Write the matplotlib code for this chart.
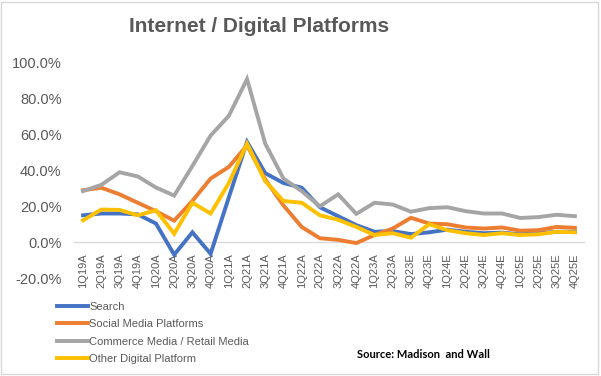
import matplotlib
matplotlib.use("Agg")
import matplotlib.pyplot as plt
from matplotlib.patches import Rectangle

quarters = ["1Q19A", "2Q19A", "3Q19A", "4Q19A", "1Q20A", "2Q20A", "3Q20A", "4Q20A",
            "1Q21A", "2Q21A", "3Q21A", "4Q21A", "1Q22A", "2Q22A", "3Q22A", "4Q22A",
            "1Q23A", "2Q23A", "3Q23E", "4Q23E", "1Q24E", "2Q24E", "3Q24E", "4Q24E",
            "1Q25E", "2Q25E", "3Q25E", "4Q25E"]

search = [15.0, 16.0, 16.0, 15.5, 10.4, -7.0, 5.5, -6.5,
          25.0, 56.0, 38.5, 33.0, 30.4, 19.5, 14.5, 9.5,
          5.8, 6.2, 4.5, 5.5, 7.0, 5.8, 5.0, 5.3,
          4.4, 5.0, 5.8, 5.8]
social = [29.0, 30.4, 26.7, 22.0, 17.3, 12.0, 23.0, 35.5,
          42.0, 54.0, 35.0, 20.5, 8.5, 2.2, 1.3, -0.5,
          4.0, 7.6, 13.6, 10.4, 10.0, 8.2, 7.6, 8.2,
          6.4, 6.7, 8.5, 8.0]
commerce = [28.5, 32.0, 39.0, 36.7, 30.5, 26.0, 42.5, 59.5,
            70.5, 91.0, 55.0, 35.5, 28.5, 20.0, 26.7, 15.8,
            22.0, 21.0, 17.0, 19.0, 19.5, 17.3, 16.0, 16.0,
            13.5, 14.0, 15.3, 14.5]
other = [12.2, 18.2, 18.0, 15.0, 17.8, 4.7, 22.0, 16.0,
         33.0, 55.0, 34.0, 23.0, 22.0, 15.0, 12.5, 8.5,
         4.0, 5.0, 2.5, 10.0, 6.7, 5.0, 4.0, 5.0,
         4.0, 4.4, 5.8, 5.5]

series = [
    ("Search", search, "#4472C4"),
    ("Social Media Platforms", social, "#ED7D31"),
    ("Commerce Media / Retail Media", commerce, "#A5A5A5"),
    ("Other Digital Platform", other, "#FFC000"),
]

plt.rcParams["font.family"] = ["Liberation Sans", "DejaVu Sans"]
txt_color = "#595959"

fig = plt.figure(figsize=(6.01, 3.76), dpi=100)
ax = fig.add_axes([74 / 601, 1 - 278 / 376, 510 / 601, 215 / 376])

# axis line sits at 0%, labels hang below it (Excel style)
for s in ["left", "right", "top"]:
    ax.spines[s].set_visible(False)
ax.spines["bottom"].set_position(("data", 0))
ax.spines["bottom"].set_color("#D9D9D9")
ax.spines["bottom"].set_linewidth(1)
ax.spines["bottom"].set_zorder(0)

x = range(len(quarters))
for name, vals, col in series:
    ax.plot(x, vals, color=col, lw=2.8, label=name, solid_joinstyle="miter")

ax.set_xlim(-0.5, len(quarters) - 0.5)
ax.set_ylim(-20, 100)
ax.set_yticks([-20, 0, 20, 40, 60, 80, 100])
ax.set_yticklabels([f"{v:.1f}%" for v in [-20, 0, 20, 40, 60, 80, 100]])
ax.set_xticks(list(x))
ax.set_xticklabels(quarters)
ax.tick_params(axis="y", length=0, pad=9, labelsize=10.5, labelcolor=txt_color)
ax.tick_params(axis="x", length=0, pad=8, labelsize=8, labelcolor=txt_color, labelrotation=90)

fig.text(259 / 601, 1 - 27 / 376, "Internet / Digital Platforms", ha="center", va="center",
         fontsize=15, fontweight="bold", color=txt_color)

leg = fig.legend(loc="upper left", bbox_to_anchor=(57 / 601, 1 - 302 / 376), frameon=False,
                 fontsize=8, handlelength=2.8, handletextpad=0.1, labelspacing=0.66,
                 borderpad=0, borderaxespad=0)
for t in leg.get_texts():
    t.set_color(txt_color)

fig.text(490 / 601, 1 - 355 / 376, "Source: Madison  and Wall", ha="right", va="center",
         fontsize=8, fontweight="bold", color="black", family=["Lato", "DejaVu Sans"])

fig.patches.append(Rectangle((0.002, 0.004), 0.993, 0.992, transform=fig.transFigure,
                             fill=False, edgecolor="#D9D9D9", lw=1))

fig.savefig("out.png", dpi=100)
